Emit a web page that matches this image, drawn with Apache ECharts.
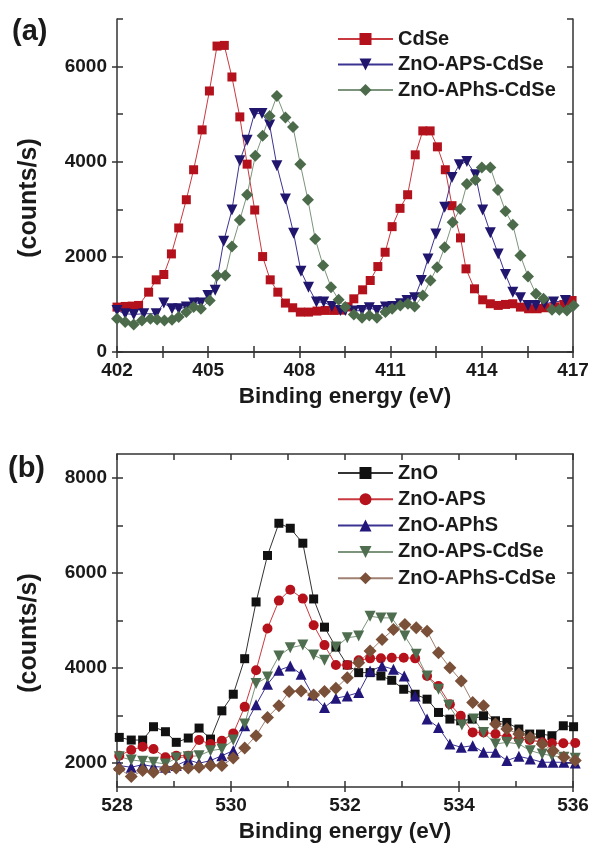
<!DOCTYPE html>
<html>
<head>
<meta charset="utf-8">
<script src="https://cdn.jsdelivr.net/npm/echarts@6/dist/echarts.min.js"></script>
<style>
  html, body { margin: 0; padding: 0; background: #fff; }
  #chart { width: 592px; height: 846px; }
</style>
</head>
<body>
<div id="chart"></div>
<script>
// panel (a): Cd 3d region, [binding energy, counts/s]
const aCdSe = [[402.0,944],[402.27,958],[402.5,965],[402.71,979],[403.04,1258],[403.29,1517],[403.54,1629],[403.79,2062],[404.03,2607],[404.28,3201],[404.52,3831],[404.8,4669],[405.04,5487],[405.29,6431],[405.53,6445],[405.78,5781],[406.04,4942],[406.28,3949],[406.53,2985],[406.79,2006],[407.04,1517],[407.29,1258],[407.54,1028],[407.78,930],[408.03,839],[408.3,839],[408.58,860],[408.85,874],[409.13,874],[409.4,880],[409.6,950],[409.79,1118],[410.08,1307],[410.33,1503],[410.58,1796],[410.82,2097],[411.05,2635],[411.31,3020],[411.56,3306],[411.81,4145],[412.06,4648],[412.3,4648],[412.54,4313],[412.8,3831],[413.02,3076],[413.3,2398],[413.48,1748],[413.76,1328],[414.03,1097],[414.28,1014],[414.54,979],[414.78,1000],[415.02,1014],[415.27,944],[415.54,909],[415.82,909],[416.09,930],[416.4,950],[416.7,1000],[416.97,1083]];
const aApsCdSe = [[402.0,874],[402.27,804],[402.55,790],[402.88,804],[403.29,804],[403.54,1028],[403.81,909],[404.03,909],[404.28,944],[404.52,1028],[404.76,1028],[404.99,1188],[405.23,1300],[405.51,2328],[405.78,2985],[406.04,4019],[406.28,4453],[406.52,5012],[406.77,5012],[407.02,4774],[407.26,3914],[407.54,3215],[407.81,2495],[408.05,1699],[408.3,1363],[408.56,1049],[408.8,1049],[409.07,958],[409.35,874],[409.51,874],[409.79,860],[410.06,874],[410.3,930],[410.55,874],[410.83,944],[411.07,958],[411.32,1014],[411.54,1083],[411.79,1139],[412.01,1503],[412.23,1957],[412.49,2481],[412.78,3041],[413.02,3670],[413.26,3935],[413.51,4005],[413.79,3726],[414.03,2985],[414.28,2509],[414.54,2062],[414.78,1629],[415.02,1258],[415.27,1139],[415.52,979],[415.78,979],[416.06,1014],[416.36,1049],[416.75,1083]];
const aAphsCdSe = [[402.0,699],[402.27,629],[402.55,580],[402.82,664],[403.1,699],[403.32,685],[403.56,664],[403.81,678],[404.03,734],[404.28,839],[404.52,944],[404.76,909],[405.05,1083],[405.29,1608],[405.56,1608],[405.78,2216],[406.04,2775],[406.28,3306],[406.55,4124],[406.79,4544],[407.02,4963],[407.26,5382],[407.54,4928],[407.79,4732],[408.03,3949],[408.28,3201],[408.52,2377],[408.78,1817],[409.04,1363],[409.29,1097],[409.51,944],[409.79,790],[410.06,720],[410.3,769],[410.55,720],[410.83,839],[411.05,909],[411.32,979],[411.57,1014],[411.79,958],[412.06,1188],[412.31,1503],[412.53,1782],[412.78,2202],[413.04,2726],[413.29,3006],[413.51,3530],[413.79,3614],[414.0,3880],[414.28,3880],[414.53,3404],[414.78,2957],[415.02,2677],[415.27,2027],[415.52,1587],[415.78,1223],[416.03,1118],[416.31,888],[416.55,888],[416.8,874],[417.02,979]];

// panel (b): O 1s region
const bZnO = [[528.04,2543],[528.25,2487],[528.45,2487],[528.64,2767],[528.85,2662],[529.04,2439],[529.25,2529],[529.44,2739],[529.64,2508],[529.84,3101],[530.04,3450],[530.24,4197],[530.44,5390],[530.64,6367],[530.84,7044],[531.04,6939],[531.26,6625],[531.45,5453],[531.64,4860],[531.84,4441],[532.04,4064],[532.24,3904],[532.44,3904],[532.63,3834],[532.82,3743],[533.03,3555],[533.23,3450],[533.44,3346],[533.64,3067],[533.84,2927],[534.03,2892],[534.23,2927],[534.43,2997],[534.64,2892],[534.84,2857],[535.05,2718],[535.24,2613],[535.43,2613],[535.63,2578],[535.83,2787],[536.01,2767]];
const bZnOAps = [[528.04,2159],[528.25,2278],[528.45,2348],[528.64,2299],[528.85,2124],[529.04,2159],[529.25,2159],[529.44,2487],[529.64,2404],[529.84,2473],[530.04,2627],[530.24,3185],[530.44,3953],[530.64,4832],[530.84,5418],[531.04,5648],[531.26,5460],[531.45,4902],[531.64,4483],[531.84,4064],[532.04,4064],[532.24,4162],[532.44,4204],[532.63,4204],[532.82,4218],[533.03,4218],[533.23,4204],[533.44,3834],[533.64,3625],[533.84,3241],[534.03,2997],[534.24,2648],[534.43,2648],[534.64,2613],[534.84,2543],[535.05,2508],[535.24,2487],[535.46,2439],[535.63,2418],[535.83,2418],[536.04,2424]];
const bZnOAphs = [[528.04,1950],[528.25,1915],[528.45,1971],[528.64,1929],[528.85,1915],[529.04,1950],[529.25,2069],[529.44,1999],[529.64,2055],[529.84,2159],[530.04,2264],[530.24,2787],[530.44,3227],[530.64,3660],[530.84,3953],[531.04,4043],[531.23,3869],[531.43,3436],[531.64,3171],[531.84,3367],[532.04,3415],[532.24,3485],[532.44,3939],[532.65,4043],[532.85,3974],[533.04,3834],[533.23,3415],[533.44,2927],[533.64,2753],[533.84,2404],[534.04,2334],[534.24,2369],[534.43,2229],[534.64,2229],[534.84,2055],[535.05,2145],[535.25,2090],[535.46,2020],[535.65,2020],[535.84,2020],[536.04,2006]];
const bApsCdSe = [[528.04,2138],[528.25,2069],[528.45,2041],[528.64,2020],[528.85,1985],[529.04,2110],[529.25,2138],[529.44,2159],[529.64,2264],[529.84,2299],[530.04,2487],[530.24,2822],[530.44,3674],[530.64,3813],[530.84,4253],[531.04,4427],[531.26,4483],[531.45,4274],[531.64,4162],[531.84,4441],[532.04,4637],[532.24,4672],[532.44,5090],[532.63,5055],[532.82,5055],[533.05,4672],[533.25,4288],[533.44,3834],[533.64,3555],[533.82,3220],[534.05,2801],[534.26,2927],[534.43,2648],[534.64,2404],[534.84,2439],[535.05,2404],[535.25,2264],[535.46,2194],[535.63,2159],[535.84,2124],[536.04,2103]];
const bAphsCdSe = [[528.04,1880],[528.25,1720],[528.45,1845],[528.64,1810],[528.85,1880],[529.04,1901],[529.25,1901],[529.44,1915],[529.64,1950],[529.84,1950],[530.04,2110],[530.24,2320],[530.44,2578],[530.64,2962],[530.84,3206],[531.02,3506],[531.23,3520],[531.45,3436],[531.64,3506],[531.84,3576],[532.04,3799],[532.24,4113],[532.44,4357],[532.65,4602],[532.85,4811],[533.05,4916],[533.25,4846],[533.44,4776],[533.64,4323],[533.84,4009],[534.04,3730],[534.24,3276],[534.43,3206],[534.64,2822],[534.84,2718],[535.05,2613],[535.25,2543],[535.46,2404],[535.65,2264],[535.84,2124],[536.04,2055]];

// ticks
const aXTicks = [402, 403.5, 405, 406.5, 408, 409.5, 411, 412.5, 414, 415.5, 417];
const aXLabels = [402, 405, 408, 411, 414, 417];
const aYTicks = [0, 1000, 2000, 3000, 4000, 5000, 6000, 7000];
const aYLabels = [0, 2000, 4000, 6000];
const bXTicks = [528, 529, 530, 531, 532, 533, 534, 535, 536];
const bXLabels = [528, 530, 532, 534, 536];
const bYTicks = [2000, 3000, 4000, 5000, 6000, 7000, 8000];
const bYLabels = [2000, 4000, 6000, 8000];

const FONT = '"Liberation Sans", Arial, sans-serif';
const TXT = '#1a1a1a';
const AX = { color: '#333', width: 1.5 };

// main axis (labels + outward majors), inner ticks, and mirrored side
const makeAxes = (dim, gridIndex, min, max, ticks, labels) => {
  const near = dim === 'x' ? 'bottom' : 'left';
  const far = dim === 'x' ? 'top' : 'right';
  const base = { type: 'value', gridIndex, min, max, splitLine: { show: false } };
  return [
    Object.assign({}, base, {
      position: near,
      axisLine: { show: true, lineStyle: AX },
      axisTick: { show: true, inside: false, length: 5, customValues: labels, lineStyle: AX },
      axisLabel: {
        customValues: labels, margin: dim === 'x' ? 9 : 10,
        formatter: (v) => String(v),
        color: TXT, fontSize: 19, fontWeight: 'bold', fontFamily: FONT
      }
    }),
    Object.assign({}, base, {
      position: near,
      axisLine: { show: false },
      axisTick: { show: true, inside: true, length: 6, customValues: ticks, lineStyle: AX },
      axisLabel: { show: false }
    }),
    Object.assign({}, base, {
      position: far,
      axisLine: { show: true, lineStyle: AX },
      axisTick: { show: true, inside: true, length: 6, customValues: ticks, lineStyle: AX },
      axisLabel: { show: false }
    })
  ];
};

const mkSeries = (name, data, axisIdx, symbol, size, color, lineColor, rotate) => ({
  name,
  type: 'line',
  data,
  xAxisIndex: axisIdx,
  yAxisIndex: axisIdx,
  symbol,
  symbolSize: size,
  symbolRotate: rotate || 0,
  showAllSymbol: true,
  clip: false,
  itemStyle: { color, borderWidth: 0 },
  lineStyle: { color: lineColor, width: 1 },
  emphasis: { disabled: true },
  animation: false
});

const legendBase = {
  orient: 'vertical',
  left: 337,
  padding: 0,
  itemWidth: 55,
  itemHeight: 15,
  symbolRotate: 'inherit',
  formatter: (n) => n.replace(/^[ab]:/, ''),
  textStyle: { color: TXT, fontSize: 20, fontWeight: 'bold', fontFamily: FONT, lineHeight: 20 }
};

const titleStyle = (text, size) => ({
  text, font: 'bold ' + size + 'px ' + FONT, fill: TXT,
  align: 'center', textAlign: 'center', verticalAlign: 'middle', textVerticalAlign: 'middle'
});

const chart = echarts.init(document.getElementById('chart'), null, { renderer: 'canvas' });

const option = {
  backgroundColor: '#fff',
  animation: false,
  grid: [
    { left: 117, top: 19, width: 456, height: 333 },
    { left: 117, top: 454, width: 456, height: 333 }
  ],
  xAxis: [].concat(
    makeAxes('x', 0, 402, 417, aXTicks, aXLabels),
    makeAxes('x', 1, 528, 536, bXTicks, bXLabels)
  ),
  yAxis: [].concat(
    makeAxes('y', 0, 0, 7000, aYTicks, aYLabels),
    makeAxes('y', 1, 1500, 8500, bYTicks, bYLabels)
  ),
  legend: [
    Object.assign({}, legendBase, { top: 29, itemGap: 5.5, data: ['a:CdSe', 'a:ZnO-APS-CdSe', 'a:ZnO-APhS-CdSe'] }),
    Object.assign({}, legendBase, { top: 463, itemGap: 6.3, data: ['b:ZnO', 'b:ZnO-APS', 'b:ZnO-APhS', 'b:ZnO-APS-CdSe', 'b:ZnO-APhS-CdSe'] })
  ],
  series: [
    mkSeries('a:CdSe', aCdSe, 0, 'rect', 9, '#b3121c', '#c83a40'),
    mkSeries('a:ZnO-APS-CdSe', aApsCdSe, 0, 'triangle', 11, '#21166e', '#3b3390', 180),
    mkSeries('a:ZnO-APhS-CdSe', aAphsCdSe, 0, 'diamond', 12, '#4b6b4b', '#7b947b'),
    mkSeries('b:ZnO', bZnO, 3, 'rect', 9, '#111111', '#333333'),
    mkSeries('b:ZnO-APS', bZnOAps, 3, 'circle', 10, '#b5121b', '#c83a40'),
    mkSeries('b:ZnO-APhS', bZnOAphs, 3, 'triangle', 11, '#22167a', '#3b3390'),
    mkSeries('b:ZnO-APS-CdSe', bApsCdSe, 3, 'triangle', 11, '#4f6e4f', '#7b947b', 180),
    mkSeries('b:ZnO-APhS-CdSe', bAphsCdSe, 3, 'diamond', 13, '#7a5038', '#a08070')
  ],
  graphic: [
    { type: 'text', x: 12, y: 32, style: { text: '(a)', font: 'bold 29px ' + FONT, fill: TXT, verticalAlign: 'middle', textVerticalAlign: 'middle' } },
    { type: 'text', x: 8, y: 469, style: { text: '(b)', font: 'bold 29px ' + FONT, fill: TXT, verticalAlign: 'middle', textVerticalAlign: 'middle' } },
    { type: 'text', x: 29, y: 198, rotation: Math.PI / 2, style: titleStyle('(counts/s)', 25) },
    { type: 'text', x: 29, y: 633, rotation: Math.PI / 2, style: titleStyle('(counts/s)', 25) },
    { type: 'text', x: 345, y: 397, style: titleStyle('Binding energy (eV)', 22.5) },
    { type: 'text', x: 345, y: 832, style: titleStyle('Binding energy (eV)', 22.5) }
  ]
};

chart.setOption(option);
</script>
</body>
</html>
